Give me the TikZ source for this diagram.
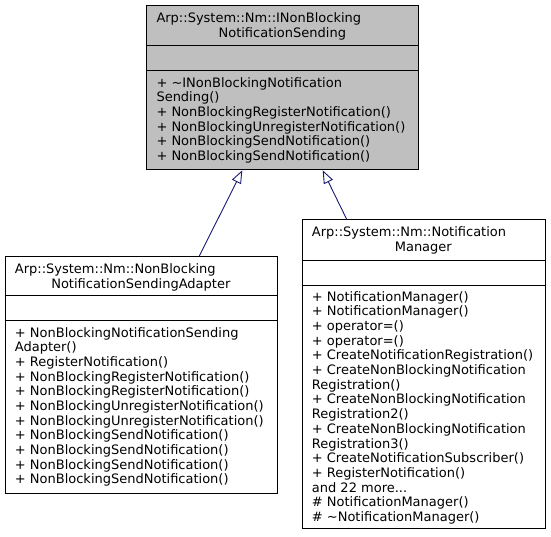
\documentclass[tikz,border=0pt]{standalone}
\usepackage{fontspec}
\setmainfont{DejaVu Sans}
\usetikzlibrary{arrows.meta}
\definecolor{edgeblue}{HTML}{191970}
\definecolor{curfill}{HTML}{BFBFBF}
\newcommand{\threedots}{...}
\tikzset{
  box/.style={draw=black, line width=1pt, rectangle, inner sep=0pt, anchor=north west},
  txt/.style={inner sep=0pt, font=\fontsize{13}{14.67}\selectfont},
  inherit/.style={draw=edgeblue, line width=0.9pt, -{Triangle[open, length=13pt, width=10pt, fill=white]}}
}
\newcommand{\memberlist}[4]{%
  \foreach \t [count=\i] in {#4} {
    \node[txt, anchor=base west] (#1-\i) at (#2, {#3+(\i-1)*14.67}) {\t};
  }}
\begin{document}
\begin{tikzpicture}[x=1pt, y=-1pt]
\useasboundingbox (0,0) rectangle (551,536);
% top class
\node[box, fill=curfill, minimum width=272pt, minimum height=164.3pt] (T) at (146.3,5) {};
\draw[line width=1pt] (T.west |- 0,45.7) -- (T.east |- 0,45.7);
\draw[line width=1pt] (T.west |- 0,70.7) -- (T.east |- 0,70.7);
\node[txt, anchor=base west] (T-t1) at (156.3,22.5) {Arp::System::Nm::INonBlocking};
\node[txt, anchor=base] (T-t2) at (282.3,37.2) {NotificationSending};
\memberlist{T}{156.3}{87}{{+ \textasciitilde INonBlockingNotification},{Sending()},{+ NonBlockingRegisterNotification()},{+ NonBlockingUnregisterNotification()},{+ NonBlockingSendNotification()},{+ NonBlockingSendNotification()}}
% left class
\node[box, fill=white, minimum width=272.3pt, minimum height=237pt] (A) at (4.7,256) {};
\draw[line width=1pt] (A.west |- 0,295.7) -- (A.east |- 0,295.7);
\draw[line width=1pt] (A.west |- 0,320.7) -- (A.east |- 0,320.7);
\node[txt, anchor=base west] (A-t1) at (14.7,273.5) {Arp::System::Nm::NonBlocking};
\node[txt, anchor=base] (A-t2) at (140.8,288.2) {NotificationSendingAdapter};
\memberlist{A}{14.7}{337}{{+ NonBlockingNotificationSending},{Adapter()},{+ RegisterNotification()},{+ NonBlockingRegisterNotification()},{+ NonBlockingRegisterNotification()},{+ NonBlockingUnregisterNotification()},{+ NonBlockingUnregisterNotification()},{+ NonBlockingSendNotification()},{+ NonBlockingSendNotification()},{+ NonBlockingSendNotification()},{+ NonBlockingSendNotification()}}
% right class
\node[box, fill=white, minimum width=243.3pt, minimum height=309pt] (M) at (301.7,219.3) {};
\draw[line width=1pt] (M.west |- 0,260) -- (M.east |- 0,260);
\draw[line width=1pt] (M.west |- 0,285) -- (M.east |- 0,285);
\node[txt, anchor=base west] (M-t1) at (311.7,236.8) {Arp::System::Nm::Notification};
\node[txt, anchor=base] (M-t2) at (423.3,251.5) {Manager};
\memberlist{M}{311.7}{301.3}{{+ NotificationManager()},{+ NotificationManager()},{+ operator=()},{+ operator=()},{+ CreateNotificationRegistration()},{+ CreateNonBlockingNotification},{Registration()},{+ CreateNonBlockingNotification},{Registration2()},{+ CreateNonBlockingNotification},{Registration3()},{+ CreateNotificationSubscriber()},{+ RegisterNotification()},{and 22 more\threedots},{\# NotificationManager()},{\# \textasciitilde NotificationManager()}}
% inheritance
\path (A.north west) ++(194.6,0) coordinate (A-out);
\path (T.south west) ++(96,0) coordinate (T-in1);
\path (M.north west) ++(45,0) coordinate (M-out);
\path (T.south west) ++(176.4,0) coordinate (T-in2);
\draw[inherit] (A-out) -- (T-in1);
\draw[inherit] (M-out) -- (T-in2);
\end{tikzpicture}
\end{document}
